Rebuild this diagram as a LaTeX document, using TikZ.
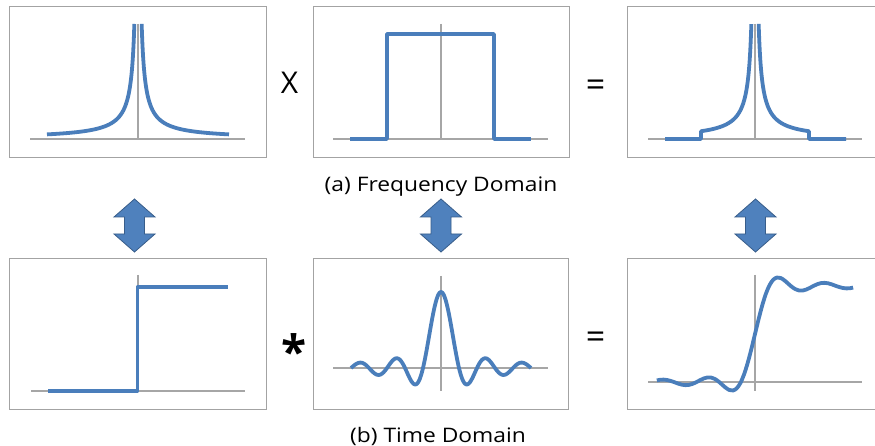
\documentclass[tikz,border=0pt]{standalone}
\usepackage{fontspec}
\setmainfont{Open Sans}
\newfontfamily\labelfont{Open Sans}[FakeStretch=1.14]
\definecolor{curveblue}{HTML}{4A7EBB}
\definecolor{axisgray}{HTML}{A6A6A6}
\definecolor{framegray}{HTML}{A3A3A3}
\definecolor{arrowfill}{HTML}{4F81BD}
\definecolor{arrowedge}{HTML}{385D8A}
\begin{document}
\begin{tikzpicture}[x=1pt,y=-1pt,
  frame/.style={draw=framegray,line width=1.2pt,rectangle,inner sep=0pt,anchor=north west},
  axisline/.style={draw=axisgray,line width=1.4pt},
  curve/.style={draw=curveblue,line width=3.8pt,line join=round},
  caption/.style={font=\labelfont\fontsize{20}{23}\selectfont,anchor=base,inner sep=0pt},
  opsym/.style={font=\fontsize{34}{36}\selectfont,inner sep=0pt},
  pics/updown/.style={code={
    \filldraw[fill=arrowfill,draw=arrowedge,line width=0.8pt,line join=miter]
      (0,-26.5) -- (20.5,-8.5) -- (10,-8.5) -- (10,8.5) -- (20.5,8.5) -- (0,26.5)
      -- (-20.5,8.5) -- (-10,8.5) -- (-10,-8.5) -- (-20.5,-8.5) -- cycle;}}]
\useasboundingbox (0,0) rectangle (875,446);
\fill[white] (0,0) rectangle (875,446);
\clip (0,0) rectangle (875,446);

% frames
\node[frame,minimum width=257pt,minimum height=151pt] (fTL) at (9,6) {};
\node[frame,minimum width=256pt,minimum height=151pt] (fTM) at (313,6) {};
\node[frame,minimum width=270pt,minimum height=151pt] (fTR) at (627,6) {};
\node[frame,minimum width=257pt,minimum height=151pt] (fBL) at (9,258) {};
\node[frame,minimum width=255pt,minimum height=151pt] (fBM) at (313,258) {};
\node[frame,minimum width=270pt,minimum height=151pt] (fBR) at (627,258) {};

% axes
\draw[axisline] (30,139) -- (245,139);  \draw[axisline] (138,24) -- (138,139);
\draw[axisline] (333,139) -- (548,139); \draw[axisline] (441,24) -- (441,139);
\draw[axisline] (648,139) -- (862,139); \draw[axisline] (755,24) -- (755,139);
\draw[axisline] (31,391) -- (245,391);  \draw[axisline] (138,275) -- (138,391);
\draw[axisline] (333,368) -- (548,368); \draw[axisline] (441,276) -- (441,391);
\draw[axisline] (648,382) -- (862,382); \draw[axisline] (755,275) -- (755,391);

% top-left: spectrum
\draw[curve] plot[domain=4.511:1.295,samples=90] ({138-exp(\x)},{139-420/exp(\x)});
\draw[curve] plot[domain=1.295:4.511,samples=90] ({138+exp(\x)},{139-420/exp(\x)});

% top-middle: rectangular window
\draw[curve] (350,139) -- (387,139) -- (387,34) -- (494,34) -- (494,139) -- (531,139);

% top-right: product
\draw[curve] (665,139) -- (701,139) -- plot[domain=3.989:1.295,samples=80] ({755-exp(\x)},{139-420/exp(\x)});
\draw[curve] plot[domain=1.295:3.989,samples=80] ({755+exp(\x)},{139-420/exp(\x)}) -- (809,139) -- (846,139);

% bottom-left: step
\draw[curve] (48,391) -- (137.5,391) -- (137.5,287) -- (228,287);

% bottom-middle: sinc
\draw[curve] plot[domain=-5:5,samples=200,smooth] ({441+18*\x},{368-76*sin(180*\x)/(pi*\x)});

% bottom-right: step convolved with sinc
\begin{scope}[shift={(755,382)},xscale=7.321,yscale=-96]
\draw[curve] plot[smooth] coordinates {(-13.4,0.016) (-13,0.0227) (-12.5,0.0251) (-12,0.0209) (-11.5,0.0107) (-11,-0.0024) (-10.5,-0.0166) (-10,-0.0279) (-9.5,-0.033) (-9,-0.03) (-8.5,-0.0187) (-8,-0.0011) (-7.5,0.0191) (-7,0.037) (-6.5,0.0474) (-6,0.0465) (-5.5,0.0325) (-5,0.0066) (-4.5,-0.0265) (-4,-0.0597) (-3.5,-0.0835) (-3,-0.0885) (-2.5,-0.0661) (-2,-0.011) (-1.5,0.0783) (-1,0.1988) (-0.5,0.343) (0,0.5) (0.5,0.657) (1,0.8012) (1.5,0.9217) (2,1.011) (2.5,1.0661) (3,1.0885) (3.5,1.0835) (4,1.0597) (4.5,1.0265) (5,0.9934) (5.5,0.9675) (6,0.9535) (6.5,0.9526) (7,0.963) (7.5,0.9809) (8,1.0011) (8.5,1.0187) (9,1.03) (9.5,1.033) (10,1.0279) (10.5,1.0166) (11,1.0024) (11.5,0.9893) (12,0.9791) (12.5,0.9749) (13,0.9773) (13.4,0.984)};
\end{scope}

% operators
\node[font=\fontsize{30}{32}\selectfont,inner sep=0pt] (opX) at (289.5,82.5) {X};
\node[opsym,anchor=north] (opEqTop) at (595.5,80) {=};
\node[font=\bfseries\fontsize{46}{48}\selectfont,inner sep=0pt,anchor=north] (opStar) at (294,333) {*};
\node[opsym,anchor=north] (opEqBot) at (595.5,332) {=};

% double arrows
\pic (arrL) at (134.5,225.5) {updown};
\pic (arrM) at (441,225.5) {updown};
\pic (arrR) at (755.5,225.5) {updown};

% captions
\node[caption] (capA) at (441,192) {(a) Frequency Domain};
\node[caption] (capB) at (438,442) {(b) Time Domain};
\end{tikzpicture}
\end{document}
